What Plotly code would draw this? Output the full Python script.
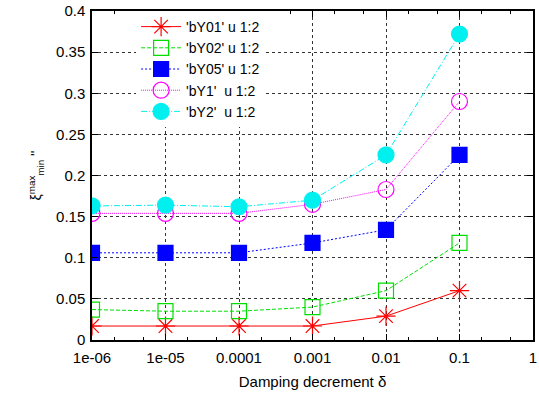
import plotly.graph_objects as go

delta = [1e-6, 1e-5, 1e-4, 1e-3, 1e-2, 1e-1]
bY01 = [0.017, 0.017, 0.017, 0.017, 0.029, 0.060]
bY02 = [0.037, 0.035, 0.035, 0.040, 0.060, 0.118]
bY05 = [0.106, 0.106, 0.106, 0.118, 0.134, 0.225]
bY1 = [0.154, 0.154, 0.154, 0.165, 0.183, 0.290]
bY2 = [0.163, 0.164, 0.162, 0.170, 0.225, 0.372]

x_tickvals = [1e-6, 1e-5, 1e-4, 1e-3, 1e-2, 1e-1, 1]
x_ticktext = ["1e-06", "1e-05", "0.0001", "0.001", "0.01", "0.1", "1"]
y_tickvals = [0, 0.05, 0.1, 0.15, 0.2, 0.25, 0.3, 0.35, 0.4]
y_ticktext = ["0", "0.05", "0.1", "0.15", "0.2", "0.25", "0.3", "0.35", "0.4"]

series = [
    ("'bY01' u 1:2", bY01, "#ff0000", "solid", "asterisk-open", 16),
    ("'bY02' u 1:2", bY02, "#00e000", "4px,2px", "square-open", 15),
    ("'bY05' u 1:2", bY05, "#0000ff", "2px,2px", "square", 15),
    ("'bY1'  u 1:2", bY1, "#ff00ff", "1px,1px", "circle-open", 16),
    ("'bY2'  u 1:2", bY2, "#00f0f0", "6px,2px,1px,2px", "circle", 16),
]

fig = go.Figure()
for name, ys, col, dash, sym, sz in series:
    fig.add_trace(go.Scatter(
        x=delta, y=ys, name=name, mode="lines+markers",
        line=dict(color=col, width=1, dash=dash),
        marker=dict(symbol=sym, size=sz, color=col, line=dict(color=col, width=1.2)),
    ))

FAM = "Liberation Sans, Arial, sans-serif"
font = dict(family=FAM, size=15, color="black")

fig.update_layout(
    width=539, height=397,
    margin=dict(l=92, r=2, t=8, b=57),
    paper_bgcolor="white", plot_bgcolor="white",
    font=font,
    showlegend=True,
    legend=dict(
        x=0.1, y=1.0, xanchor="left", yanchor="top",
        bgcolor="white", borderwidth=0,
        font=dict(family=FAM, size=14, color="black"),
        tracegroupgap=0, itemwidth=40,
    ),
    xaxis=dict(
        type="log", range=[-6, 0],
        tickvals=x_tickvals, ticktext=x_ticktext,
        ticks="inside", ticklen=6, tickcolor="black",
        showline=True, linecolor="black", linewidth=1.5, mirror="ticks",
        showgrid=True, gridcolor="#333333", griddash="dot", gridwidth=1,
        minor=dict(ticks="inside", ticklen=3, dtick="D2", tickcolor="black", showgrid=False),
        tickfont=dict(family=FAM, size=15, color="black"),
        ticklabeloverflow="allow", ticklabelstandoff=3,
        title=dict(text="Damping decrement δ", font=dict(family=FAM, size=15, color="black"), standoff=12),
        zeroline=False,
    ),
    yaxis=dict(
        range=[0, 0.4],
        tickvals=y_tickvals, ticktext=y_ticktext,
        ticks="inside", ticklen=6, tickcolor="black",
        showline=True, linecolor="black", linewidth=1.5, mirror="ticks",
        showgrid=True, gridcolor="#333333", griddash="dot", gridwidth=1,
        tickfont=dict(family=FAM, size=15, color="black"),
        ticklabeloverflow="allow", ticklabelstandoff=2,
        title=dict(text="ξ<sup>max</sup><sub>min</sub> ''", font=dict(family=FAM, size=14, color="black"), standoff=11),
        zeroline=False,
    ),
)

fig.write_html(
    "out.html",
    config={"displayModeBar": False},
    post_script="document.body.style.margin='0';document.body.style.overflow='hidden';",
)
